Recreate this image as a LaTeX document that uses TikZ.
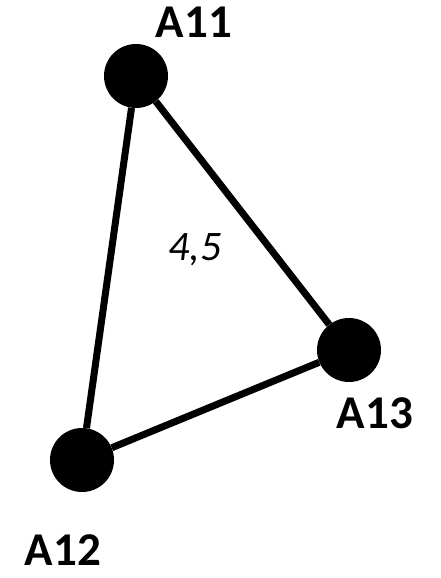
\documentclass[tikz,border=0pt]{standalone}
\usepackage{fontspec}
\setmainfont{Carlito}
\usetikzlibrary{positioning}

\begin{document}
\begin{tikzpicture}[x=1pt, y=-1pt,
  vertex/.style={circle, fill=black, inner sep=0pt, minimum size=64pt},
  vlabel/.style={font=\fontsize{47}{56}\selectfont\bfseries, inner sep=0pt},
  edge/.style={line width=7pt, black}
]
  \useasboundingbox (0,0) rectangle (441,578);
  \node[vertex] (a11) at (136,76) {};
  \node[vertex] (a12) at (82,460) {};
  \node[vertex] (a13) at (349,350) {};

  \node[vlabel] (l11) at (194,22) {A11};
  \node[vlabel] (l13) at (375,413) {A13};
  \node[vlabel] (l12) at (63,550) {A12};
  \node[font=\fontsize{42}{50}\selectfont\itshape, inner sep=0pt] (w) at (195,250) {4,5};

  \draw[edge] (a11) -- (a12);
  \draw[edge] (a11) -- (a13);
  \draw[edge] (a12) -- (a13);
\end{tikzpicture}
\end{document}
